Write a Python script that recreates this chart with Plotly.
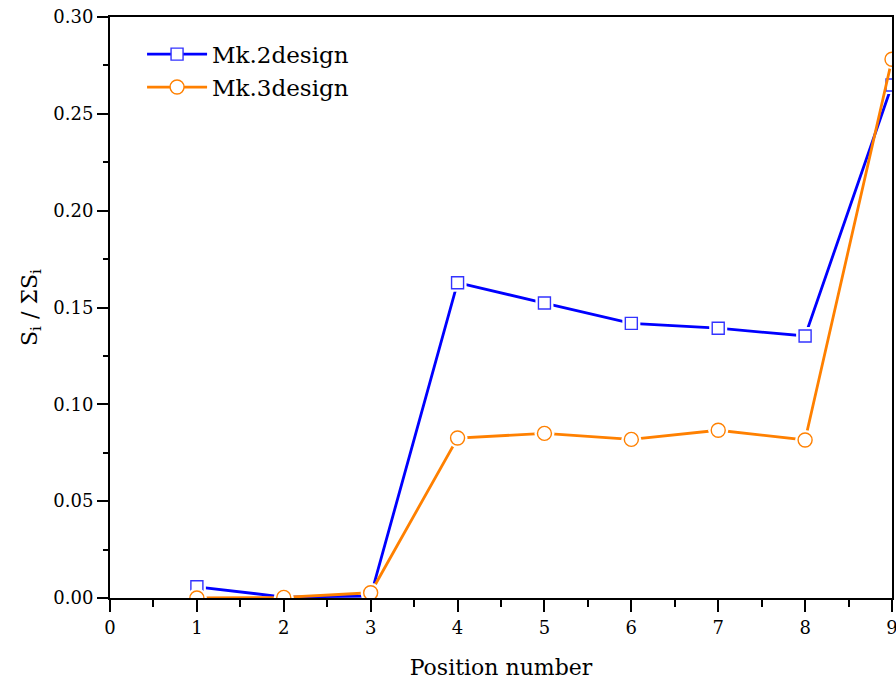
import plotly.graph_objects as go

# Position numbers along the blade row and normalised values S_i / ΣS_i
positions = [1, 2, 3, 4, 5, 6, 7, 8, 9]
mk2_values = [0.0058, 0.0005, 0.0010, 0.1628, 0.1523, 0.1418, 0.1393, 0.1353, 0.2649]
mk3_values = [0.0000, 0.0003, 0.0027, 0.0826, 0.0850, 0.0819, 0.0866, 0.0816, 0.2782]

series_names = ["Mk.2design", "Mk.3design"]
x_ticks = [0, 1, 2, 3, 4, 5, 6, 7, 8, 9]
y_ticks = [0.00, 0.05, 0.10, 0.15, 0.20, 0.25, 0.30]

BLUE = "#0000FF"
BLUE_EDGE = "#3333FF"
ORANGE = "#FF8000"
FONT = "DejaVu Serif"

fig = go.Figure()


def add_series(y, name, color, edge, symbol, size):
    # connecting line
    fig.add_trace(go.Scatter(
        x=positions, y=y, mode="lines", name=name,
        line=dict(color=color, width=2.8), showlegend=False, hoverinfo="skip"))
    # white halo so the line stops short of each marker
    fig.add_trace(go.Scatter(
        x=positions, y=y, mode="markers", showlegend=False, hoverinfo="skip",
        marker=dict(symbol=symbol, size=size + 6, color="white",
                    line=dict(color="white", width=0))))
    # hollow markers
    fig.add_trace(go.Scatter(
        x=positions, y=y, mode="markers", name=name, showlegend=False,
        marker=dict(symbol=symbol, size=size, color="white",
                    line=dict(color=edge, width=1.4))))
    # legend entry
    fig.add_trace(go.Scatter(
        x=[None], y=[None], mode="lines+markers", name=name,
        line=dict(color=color, width=2.8),
        marker=dict(symbol=symbol, size=size, color="white",
                    line=dict(color=edge, width=1.4))))


add_series(mk2_values, series_names[0], BLUE, BLUE_EDGE, "square", 12)
add_series(mk3_values, series_names[1], ORANGE, ORANGE, "circle", 14)

axis_common = dict(
    showline=True, linecolor="black", linewidth=2, mirror=True,
    showgrid=False, zeroline=False, automargin=False,
    ticks="outside", tickcolor="black", tickwidth=2,
    ticklabeloverflow="allow",
    tickfont=dict(family=FONT, size=18, color="black"),
)

fig.update_xaxes(
    range=[0, 9], tickmode="array", tickvals=x_ticks,
    ticktext=[str(v) for v in x_ticks], ticklen=12,
    minor=dict(dtick=0.5, ticks="outside", ticklen=7, tickwidth=2, tickcolor="black"),
    title=dict(text="Position number", font=dict(family=FONT, size=22, color="black"),
               standoff=23),
    **axis_common)

fig.update_yaxes(
    range=[0, 0.30], tickmode="array", tickvals=y_ticks,
    ticktext=[f"{v:.2f}" for v in y_ticks], ticklen=11,
    minor=dict(dtick=0.025, ticks="outside", ticklen=5, tickwidth=2, tickcolor="black"),
    title=dict(text="S<sub>i</sub> / ΣS<sub>i</sub>",
               font=dict(family=FONT, size=22, color="black"), standoff=10),
    **axis_common)

fig.update_layout(
    width=896, height=681,
    margin=dict(l=110, r=4, t=17, b=83),
    paper_bgcolor="white", plot_bgcolor="white",
    font=dict(family=FONT, color="black"),
    showlegend=True,
    legend=dict(x=0.041, y=0.973, xanchor="left", yanchor="top",
                bgcolor="rgba(0,0,0,0)", borderwidth=0,
                font=dict(family=FONT, size=23, color="black"),
                itemwidth=60, tracegroupgap=0),
)

fig.write_html("out.html")
